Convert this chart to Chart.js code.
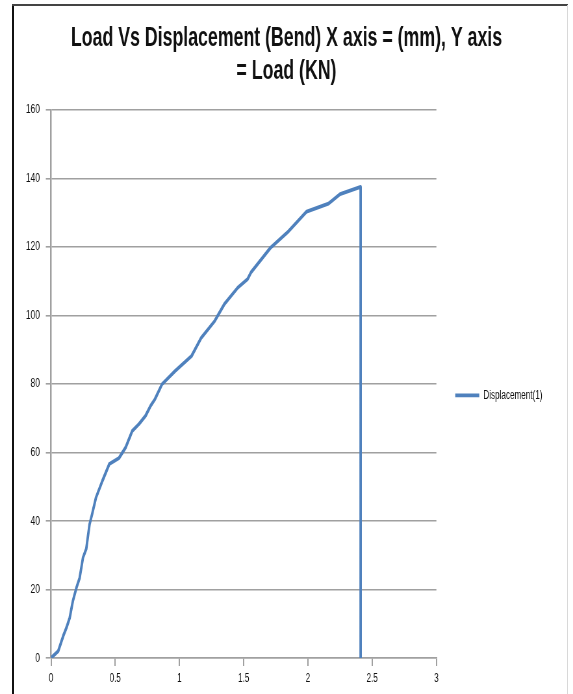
<!DOCTYPE html>
<html>
<head>
<meta charset="utf-8">
<script src="https://cdn.jsdelivr.net/npm/chart.js@4.4.0/dist/chart.umd.min.js"></script>
<style>
  html, body { margin: 0; padding: 0; background: #fff; overflow: hidden; width: 573px; height: 694px; }
  #wrap { position: absolute; left: 0; top: 0; width: 882px; height: 694px; transform: scaleX(0.64966); transform-origin: 0 0; }
  .fr { position: absolute; z-index: 5; pointer-events: none; }
</style>
</head>
<body>
<div id="wrap"><canvas id="c"></canvas></div>
<div class="fr" style="left:12px; top:5px; width:2px; height:689px; background:#111;"></div>
<div class="fr" style="left:12px; top:4px; width:556px; height:2px; background:#444;"></div>
<div class="fr" style="left:567px; top:5px; width:1px; height:689px; background:#d8d8d8;"></div>
<script>
// Displacement (mm) and Load (kN)
const displacement = [0, 0.056, 0.095, 0.12, 0.146, 0.17, 0.198, 0.223, 0.249, 0.274, 0.30, 0.32, 0.35, 0.40, 0.454, 0.53, 0.58, 0.633, 0.685, 0.736, 0.775, 0.81, 0.864, 0.967, 1.095, 1.17, 1.275, 1.35, 1.454, 1.53, 1.556, 1.71, 1.84, 1.99, 2.16, 2.25, 2.41, 2.41];
const load = [0, 2, 6.4, 8.8, 11.8, 16.6, 20.5, 23.4, 29.3, 31.8, 39, 42, 46.8, 51.7, 56.6, 58.4, 61.4, 66.3, 68.3, 70.7, 73.6, 75.6, 79.9, 83.8, 88.2, 93.5, 98.4, 103.3, 108.1, 110.6, 112.5, 119.8, 124.2, 130.3, 132.6, 135.4, 137.5, 0];
const seriesName = 'Displacement(1)';
const titleLines = ['Load Vs Displacement (Bend) X axis = (mm), Y axis', '= Load (KN)'];
const xTicks = { min: 0, max: 3, step: 0.5 };
const yTicks = { min: 0, max: 160, step: 20 };

const points = displacement.map((x, i) => ({ x: x, y: load[i] }));
const FONT = "'Liberation Sans', Arial, sans-serif";
const gridColor = '#a0a0a0';

new Chart(document.getElementById('c'), {
  type: 'scatter',
  data: {
    datasets: [{
      label: seriesName,
      data: points,
      showLine: true,
      borderColor: '#4F81BD',
      backgroundColor: '#4F81BD',
      borderWidth: 3.8,
      pointRadius: 0,
      pointHoverRadius: 0,
      tension: 0,
      borderJoinStyle: 'round'
    }]
  },
  options: {
    responsive: true,
    maintainAspectRatio: false,
    animation: false,
    layout: { padding: { left: 37, right: 37, top: 10, bottom: 0 } },
    plugins: {
      title: {
        display: true,
        text: titleLines,
        color: '#111',
        font: { family: FONT, size: 27.3, weight: 'bold', lineHeight: 1.22 },
        padding: { top: 12, bottom: 21.2 }
      },
      legend: {
        display: true,
        position: 'right',
        fullSize: false,
        title: { display: true, text: ' ', font: { size: 10, lineHeight: 1.3 }, padding: 5 },
        labels: {
          usePointStyle: true,
          pointStyle: 'line',
          pointStyleWidth: 37,
          padding: 29,
          color: '#111',
          font: { family: FONT, size: 12.5 }
        }
      },
      tooltip: { enabled: false }
    },
    scales: {
      x: {
        type: 'linear',
        min: xTicks.min,
        max: xTicks.max,
        afterFit: (s) => { s.height = 36; },
        ticks: {
          stepSize: xTicks.step, color: '#111', padding: 5, maxRotation: 0,
          font: { family: FONT, size: 12.5 },
          callback: (v) => String(Math.round(v * 100) / 100)
        },
        grid: { drawOnChartArea: false, drawTicks: true, tickLength: 8, color: gridColor, lineWidth: 2 },
        border: { display: true, color: gridColor, width: 1.6 }
      },
      y: {
        min: yTicks.min,
        max: yTicks.max,
        afterFit: (s) => { s.width = 41.5; },
        ticks: { stepSize: yTicks.step, color: '#111', padding: 9, font: { family: FONT, size: 13 } },
        grid: { drawOnChartArea: true, drawTicks: true, tickLength: 8, color: gridColor, lineWidth: 1.6 },
        border: { display: true, color: gridColor, width: 2.5 }
      }
    }
  }
});
</script>
</body>
</html>
